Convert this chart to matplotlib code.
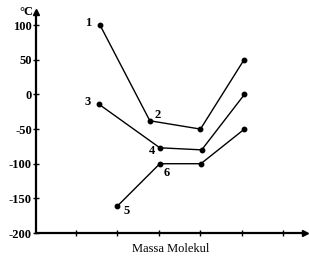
import matplotlib.pyplot as plt

# data (x in tick units, y in °C)
x_a = [1.58, 2.78, 4.0, 5.05]
y_a = [100, -38, -50, 50]
x_b = [1.55, 3.02, 4.03, 5.06]
y_b = [-14, -77, -80, 0]
x_c = [2.0, 3.02, 4.01, 5.06]
y_c = [-161, -100, -100, -50]
yticks = [-200, -150, -100, -50, 0, 50, 100]
ytick_labels = ["-200", "-150", "-100", "-50", "0", "50", "100"]
xticks = [1, 2, 3, 4, 5, 6]
point_labels = ["1", "2", "3", "4", "5", "6"]

plt.rcParams['font.family'] = ['Liberation Serif', 'DejaVu Serif']

fig = plt.figure(figsize=(3.09, 2.57), dpi=100)
ax = fig.add_axes([36 / 309, 24 / 257, 269 / 309, 221 / 257])

for xs, ys in [(x_a, y_a), (x_b, y_b), (x_c, y_c)]:
    ax.plot(xs, ys, color='black', lw=1.0, marker='o', ms=3.2, clip_on=False)

ax.set_xlim(0.036, 6.52)
ax.set_ylim(-200, 119)

for s in ['top', 'right']:
    ax.spines[s].set_visible(False)
for s in ['left', 'bottom']:
    ax.spines[s].set_linewidth(1.6)

# arrow heads on the axes
ax.plot(1, 0, marker='>', color='black', ms=5, transform=ax.transAxes, clip_on=False)
ax.plot(0, 1, marker='^', color='black', ms=5, transform=ax.transAxes, clip_on=False)

ax.set_yticks(yticks)
ax.set_yticklabels(ytick_labels, fontsize=9, fontweight='bold')
ax.set_xticks(xticks)
ax.set_xticklabels([])
ax.tick_params(axis='both', direction='inout', length=4, width=1.0, pad=1)

ax.set_xlabel("Massa Molekul", fontsize=9, labelpad=4)
ax.text(-0.01, 1.0, "°C", transform=ax.transAxes, ha='right', va='center', fontsize=9, fontweight='bold')

# point numbers
fs = 9
ax.text(x_a[0] - 0.2, y_a[0] + 3, point_labels[0], ha='right', va='center', fontsize=fs, fontweight='bold')
ax.text(x_a[1] + 0.12, y_a[1] + 8, point_labels[1], ha='left', va='center', fontsize=fs, fontweight='bold')
ax.text(x_b[0] - 0.2, y_b[0] + 3, point_labels[2], ha='right', va='center', fontsize=fs, fontweight='bold')
ax.text(x_b[1] - 0.12, y_b[1] - 4, point_labels[3], ha='right', va='center', fontsize=fs, fontweight='bold')
ax.text(x_c[0] + 0.15, y_c[0] - 7, point_labels[4], ha='left', va='center', fontsize=fs, fontweight='bold')
ax.text(x_c[1] + 0.1, y_c[1] - 13, point_labels[5], ha='left', va='center', fontsize=fs, fontweight='bold')

fig.savefig("out.png", dpi=100)
